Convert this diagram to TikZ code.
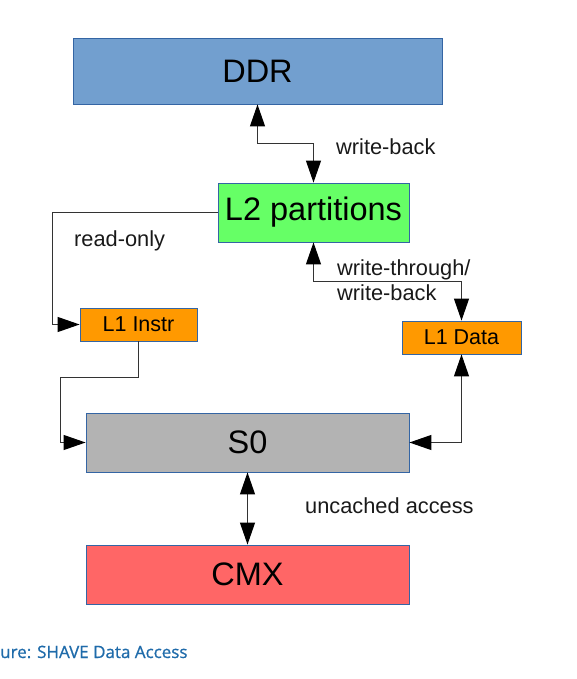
\documentclass[tikz,border=0pt]{standalone}
\usepackage{fontspec}
\setmainfont{Liberation Sans}
\newfontfamily\capfont[FakeBold=0.8]{Open Sans}
\usetikzlibrary{arrows.meta}
\definecolor{ddrfill}{HTML}{729FCF}
\definecolor{boxline}{HTML}{3465A4}
\definecolor{l2fill}{HTML}{66FF66}
\definecolor{l1fill}{HTML}{FF9900}
\definecolor{s0fill}{HTML}{B3B3B3}
\definecolor{cmxfill}{HTML}{FF6666}
\definecolor{capblue}{HTML}{1F6BAA}
\definecolor{wire}{HTML}{333333}
\tikzset{
  box/.style={draw=boxline, line width=0.8pt, rectangle, inner sep=0pt, text=black},
  bigtext/.style={font=\fontsize{32.5}{38}\selectfont},
  smalltext/.style={font=\fontsize{21.5}{25}\selectfont},
  lbl/.style={font=\fontsize{21.8}{25}\selectfont, anchor=base west, inner sep=0pt, text=black!90},
  wireline/.style={draw=wire, line width=1pt},
  tip/.style={-{Triangle[length=22pt,width=15pt,color=black]}},
  bitip/.style={{Triangle[length=22pt,width=15pt,color=black]}-{Triangle[length=22pt,width=15pt,color=black]}},
}
\begin{document}
\begin{tikzpicture}[x=1pt,y=-1pt]
\useasboundingbox (0,0) rectangle (576,679);
\node[box, bigtext, fill=ddrfill, minimum width=369pt, minimum height=66pt] (ddr) at (257.5,71) {DDR};
\node[box, bigtext, fill=l2fill, minimum width=191pt, minimum height=59pt] (l2) at (313.5,212.5) {L2 partitions};
\node[box, smalltext, fill=l1fill, minimum width=117pt, minimum height=33pt] (l1i) at (138.5,324.5) {L1 Instr};
\node[box, smalltext, fill=l1fill, minimum width=119pt, minimum height=33pt] (l1d) at (461.5,337.5) {L1 Data};
\node[box, bigtext, fill=s0fill, minimum width=323pt, minimum height=59pt] (s0) at (247.5,442.5) {S0};
\node[box, bigtext, fill=cmxfill, minimum width=323pt, minimum height=59pt] (cmx) at (247.5,574.5) {CMX};

\draw[wireline, bitip] (ddr.south) -- ++(0,39) -| (l2.north);
\draw[wireline, tip] (l2.west) -- ++(-165,0) |- (l1i.west);
\draw[wireline, bitip] (l2.south) -- ++(0,39) -| (l1d.north);
\draw[wireline, tip] (l1i.south) -- ++(0,36) -- ++(-78.5,0) |- (s0.west);
\draw[wireline, bitip] (s0.east) -| (l1d.south);
\draw[wireline, bitip] (s0.south) -- (cmx.north);

\node[lbl] (wb1) at (336,154) {write-back};
\node[lbl] (ro) at (74,246) {read-only};
\node[lbl] (wt) at (337,275) {write-through/};
\node[lbl] (wb2) at (337,300) {write-back};
\node[lbl] (ua) at (305,513) {uncached access};
\node[anchor=base west, inner sep=0pt, text=capblue, font=\capfont\fontsize{17}{20}\selectfont] (cap) at (0,658) {ure: SHAVE Data Access};
\end{tikzpicture}
\end{document}
